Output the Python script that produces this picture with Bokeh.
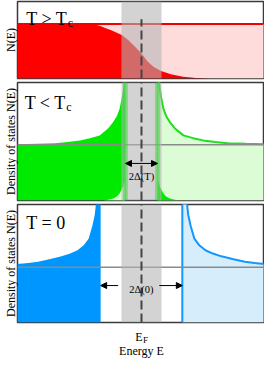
from bokeh.plotting import figure
from bokeh.layouts import column
from bokeh.models import Range1d, Label, Arrow, NormalHead, FixedTicker
from bokeh.embed import file_html
from bokeh.resources import INLINE

# ---------------- data ----------------
EF = 0.0                      # Fermi level
BAND_HALF = 0.163             # half width of grey band around E_F
DELTA_T = 0.13                # gap edge at T < Tc
DELTA_0 = 0.332               # gap edge at T = 0

# Panel 1 (T > Tc): occupied part of N(E)
p1_E   = [-1.01, -0.44, -0.38, -0.34, -0.30, -0.24, -0.16, -0.11, -0.06, 0.0, 0.05, 0.10, 0.16, 0.24, 0.34, 0.44, 0.55, 1.0]
p1_occ = [1.0, 1.0, 0.99, 0.97, 0.93, 0.88, 0.80, 0.71, 0.60, 0.46, 0.31, 0.21, 0.14, 0.08, 0.034, 0.01, 0.0, 0.0]
p1_N   = 1.0

# Panel 2 (T < Tc): density of states vs |E|
p2_E = [0.135, 0.142, 0.15, 0.16, 0.178, 0.2, 0.23, 0.27, 0.34, 0.42, 0.5, 0.6, 0.7, 0.85, 1.01]
p2_N = [2.3, 2.15, 2.0, 1.85, 1.65, 1.52, 1.41, 1.30, 1.17, 1.12, 1.08, 1.05, 1.03, 1.02, 1.01]
# thermally smeared wedge near the gap edges
p2_wE = [0.135, 0.15, 0.165, 0.18, 0.2, 0.23, 0.27, 0.31]
p2_wN = [0.36, 0.25, 0.18, 0.12, 0.07, 0.035, 0.012, 0.0]

# Panel 3 (T = 0): density of states vs |E|
p3_E = [0.332, 0.35, 0.368, 0.38, 0.40, 0.43, 0.47, 0.52, 0.58, 0.65, 0.74, 0.84, 0.92, 1.01]
p3_N = [3.0, 2.6, 2.2, 1.95, 1.75, 1.52, 1.40, 1.31, 1.25, 1.20, 1.15, 1.10, 1.08, 1.06]

titles = ["T > T", "T < T", "T = 0"]
ylabels = ["N(E)", "Density of states N(E)", "Density of states N(E)"]
xlabel = "Energy E"

FONT = "Liberation Serif"
GREY = "#b4b4b4"
DASH = "#444444"
XR = (-1.008, 0.992)
W = 264
LB = 14


def make_fig(height, ymax, top, bottom, ylabel):
    p = figure(width=W, height=height, x_range=Range1d(*XR), y_range=Range1d(0, ymax),
               output_backend="svg", toolbar_location=None, x_axis_type=None,
               min_border_left=LB, min_border_right=1, min_border_top=top, min_border_bottom=bottom)
    p.grid.visible = False
    p.outline_line_color = "#3a3a3a"
    p.outline_line_width = 1.5
    p.background_fill_color = "white"
    p.border_fill_color = "white"
    ya = p.yaxis[0]
    ya.ticker = FixedTicker(ticks=[])
    ya.axis_line_color = None
    ya.major_tick_line_color = None
    ya.minor_tick_line_color = None
    ya.major_tick_out = 0
    ya.major_tick_in = 0
    ya.major_label_standoff = 0
    ya.axis_label = ylabel
    ya.axis_label_standoff = 0
    ya.axis_label_text_font = FONT
    ya.axis_label_text_font_size = "12px"
    ya.axis_label_text_font_style = "normal"
    ya.axis_label_text_color = "black"
    return p


def band_and_dash(p, ymax, dash_top):
    p.quad(left=[EF - BAND_HALF], right=[EF + BAND_HALF], bottom=[0], top=[ymax],
           fill_color=GREY, fill_alpha=0.59, line_color=None)
    p.line(x=[EF, EF], y=[0, dash_top], line_color=DASH, line_width=2, line_dash="9 4")


def title(p, x, y, txt, sub=None):
    p.add_layout(Label(x=x, y=y, text=txt, text_font=FONT, text_font_size="18px",
                       text_baseline="alphabetic", text_color="black"))
    if sub:
        p.add_layout(Label(x=x, y=y, x_offset=41.5, y_offset=-4, text=sub, text_font=FONT,
                           text_font_size="12px", text_baseline="alphabetic", text_color="black"))


# ---------------- panel 1 ----------------
Y1 = 1.414
p1 = make_fig(80, Y1, 1, 2, ylabels[0])
p1.varea(x=p1_E, y1=p1_occ, y2=[p1_N] * len(p1_E), fill_color="#ffdcdc")
p1.varea(x=p1_E, y1=[0] * len(p1_E), y2=p1_occ, fill_color="#ff0000")
p1.line(x=[XR[0], XR[1]], y=[p1_N, p1_N], line_color="#f00000", line_width=2)
band_and_dash(p1, Y1, 1.09)
title(p1, -0.936, 1.086, titles[0], "c")

# ---------------- panel 2 ----------------
Y2 = 2.12
p2 = make_fig(122, Y2, 2, 2, ylabels[1])
negE2 = [-e for e in p2_E][::-1]
negN2 = p2_N[::-1]
p2.varea(x=negE2, y1=[0] * len(negE2), y2=negN2, fill_color="#00ea00")
p2.varea(x=p2_E, y1=[0] * len(p2_E), y2=p2_N, fill_color="#dcfcd6")
negwE = [-e for e in p2_wE][::-1]
p2.varea(x=negwE, y1=[0] * len(negwE), y2=p2_wN[::-1], fill_color="#dcfcd6")
p2.varea(x=p2_wE, y1=[0] * len(p2_wE), y2=p2_wN, fill_color="#00ea00")
p2.line(x=p2_E, y=p2_N, line_color="#22dd22", line_width=2)
p2.line(x=[XR[0], XR[1]], y=[1, 1], line_color="#8a8a8a", line_width=1.5)
band_and_dash(p2, Y2, Y2)
for s in (-1, 1):
    p2.line(x=[s * DELTA_T, s * DELTA_T], y=[0, Y2], line_color="#22dd22", line_width=5, line_alpha=0.4)
    p2.line(x=[s * DELTA_T, s * DELTA_T], y=[0, Y2], line_color="#22dd22", line_width=1.5, line_alpha=0.5)
p2.add_layout(Arrow(start=NormalHead(size=6, fill_color="black", line_color="black"),
                    end=NormalHead(size=6, fill_color="black", line_color="black"),
                    x_start=-DELTA_T, x_end=DELTA_T, y_start=0.666, y_end=0.666,
                    line_color="black", line_width=1))
p2.add_layout(Label(x=EF, y=0.44, text="2Δ(T)", text_font=FONT, text_font_size="10.5px",
                    text_align="center", text_baseline="alphabetic", text_color="black"))
title(p2, -0.95, 1.75, titles[1], "c")

# ---------------- panel 3 ----------------
Y3 = 2.14
p3 = make_fig(122, Y3, 2, 2, ylabels[2])
negE3 = [-e for e in p3_E][::-1]
p3.varea(x=negE3, y1=[0] * len(negE3), y2=p3_N[::-1], fill_color="#0096ff")
p3.varea(x=p3_E, y1=[0] * len(p3_E), y2=p3_N, fill_color="#d6eefc")
p3.line(x=p3_E, y=p3_N, line_color="#1496ff", line_width=2)
p3.line(x=[DELTA_0, DELTA_0], y=[0, Y3], line_color="#1496ff", line_width=2)
p3.line(x=[XR[0], XR[1]], y=[1, 1], line_color="#8a8a8a", line_width=1.5)
band_and_dash(p3, Y3, Y3)
head = dict(size=6, fill_color="black", line_color="black")
p3.add_layout(Arrow(end=NormalHead(**head), x_start=-0.19, x_end=-DELTA_0, y_start=0.67, y_end=0.67,
                    line_color="black", line_width=1))
p3.add_layout(Arrow(end=NormalHead(**head), x_start=0.145, x_end=DELTA_0, y_start=0.67, y_end=0.67,
                    line_color="black", line_width=1))
p3.add_layout(Label(x=EF, y=0.60, text="2Δ(0)", text_font=FONT, text_font_size="10.5px",
                    text_align="center", text_baseline="alphabetic", text_color="black"))
title(p3, -0.936, 1.81, titles[2])

# ---------------- energy axis strip ----------------
p4 = figure(width=W, height=34, x_range=Range1d(*XR), y_range=Range1d(0, 34),
            output_backend="svg", toolbar_location=None, x_axis_type=None, y_axis_type=None,
            min_border_left=LB, min_border_right=1, min_border_top=0, min_border_bottom=0)
p4.grid.visible = False
p4.outline_line_color = None
p4.add_layout(Label(x=EF, y=22, x_offset=-2.5, text="E", text_font=FONT, text_font_size="12px",
                    text_align="center", text_baseline="alphabetic", text_color="black"))
p4.add_layout(Label(x=EF, y=18.5, x_offset=1.5, text="F", text_font=FONT, text_font_size="9px",
                    text_align="left", text_baseline="alphabetic", text_color="black"))
p4.add_layout(Label(x=EF, y=8, text=xlabel, text_font=FONT, text_font_size="12px",
                    text_align="center", text_baseline="alphabetic", text_color="black"))

layout = column(p1, p2, p3, p4, spacing=0)
open("out.html", "w").write(file_html(layout, INLINE))
